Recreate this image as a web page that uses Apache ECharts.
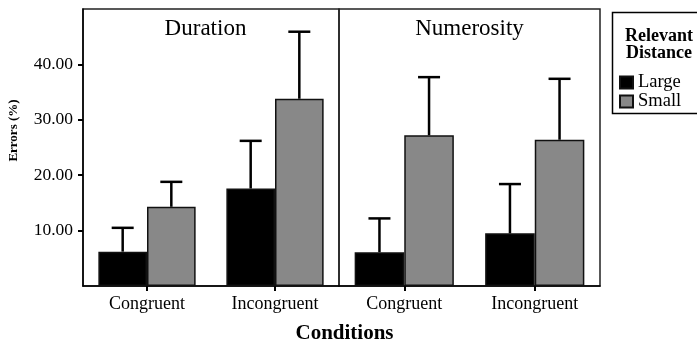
<!DOCTYPE html>
<html>
<head>
<meta charset="utf-8">
<script src="https://cdn.jsdelivr.net/npm/echarts@6/dist/echarts.min.js"></script>
<style>
html,body{margin:0;padding:0;background:#fff;}
#chart{width:697px;height:344px;}
</style>
</head>
<body>
<div id="chart"></div>
<script>
// ---- data ----
const categories = ['Congruent', 'Incongruent'];
const panels = ['Duration', 'Numerosity'];
const seriesNames = ['Large', 'Small'];
const durationLarge = [6.2, 17.6];
const durationLargeUpper = [10.5, 26.2];
const durationSmall = [14.3, 33.8];
const durationSmallUpper = [18.8, 45.9];
const numerosityLarge = [6.1, 9.5];
const numerosityLargeUpper = [12.2, 18.4];
const numerositySmall = [27.2, 26.4];
const numerositySmallUpper = [37.7, 37.4];
const yTicks = [10, 20, 30, 40];

const FONT = '"Liberation Serif","Times New Roman",serif';
const colors = {Large: '#000000', Small: '#888888'};
const BAR_FRAC = 0.38;

function errSeries(name, side, values, uppers, idx) {
  return {
    type: 'custom',
    name: name,
    xAxisIndex: idx, yAxisIndex: idx,
    silent: true, z: 5,
    data: values.map((v, i) => [i, v, uppers[i]]),
    renderItem: function (params, api) {
      const c = api.value(0);
      const base = api.coord([c, api.value(1)]);
      const top = api.coord([c, api.value(2)]);
      const bw = api.size([1, 0])[0] * BAR_FRAC;
      const x = base[0] + side * bw / 2;
      const cap = 11;
      return {
        type: 'group',
        children: [
          {type: 'line', shape: {x1: x, y1: base[1], x2: x, y2: top[1]}, style: {stroke: '#000', lineWidth: 2.5}},
          {type: 'line', shape: {x1: x - cap, y1: top[1], x2: x + cap, y2: top[1]}, style: {stroke: '#000', lineWidth: 2.5}}
        ]
      };
    }
  };
}

function barSeries(name, values, idx) {
  return {
    type: 'bar', name: name,
    xAxisIndex: idx, yAxisIndex: idx,
    data: values,
    barWidth: (BAR_FRAC * 100) + '%',
    barGap: '0%',
    itemStyle: {color: colors[name], borderColor: '#111', borderWidth: 1.5},
    emphasis: {disabled: true}
  };
}

const chart = echarts.init(document.getElementById('chart'), null, {renderer: 'canvas'});

const xAxisBase = (gi) => ({
  type: 'category', gridIndex: gi, data: categories,
  axisLine: {show: true, lineStyle: {color: '#000', width: 1.5}},
  axisTick: {show: true, alignWithLabel: true, length: 5, lineStyle: {color: '#000', width: 2}},
  axisLabel: {color: '#000', fontFamily: FONT, fontSize: 18, margin: 9},
  splitLine: {show: false}
});

const option = {
  animation: false,
  backgroundColor: '#fff',
  grid: [
    {left: 83, top: 9, width: 256, height: 277, show: true, borderColor: '#222', borderWidth: 1.5, backgroundColor: 'transparent'},
    {left: 339, top: 9, width: 261, height: 277, show: true, borderColor: '#222', borderWidth: 1.5, backgroundColor: 'transparent'}
  ],
  xAxis: [xAxisBase(0), xAxisBase(1)],
  yAxis: [
    {
      type: 'value', gridIndex: 0, min: 0, max: 50, interval: 10,
      axisLine: {show: true, lineStyle: {color: '#000', width: 1.5}},
      axisTick: {show: true, length: 5, lineStyle: {color: '#000', width: 2}, customValues: yTicks},
      axisLabel: {color: '#000', fontFamily: FONT, fontSize: 17.5, margin: 10, customValues: yTicks,
        formatter: v => v.toFixed(2)},
      splitLine: {show: false}
    },
    {type: 'value', gridIndex: 1, min: 0, max: 50, interval: 10, show: false, splitLine: {show: false}}
  ],
  legend: {
    data: seriesNames,
    orient: 'vertical',
    left: 619, top: 73,
    itemWidth: 13, itemHeight: 12, itemGap: 0,
    icon: 'rect',
    padding: 0,
    textStyle: {color: '#000', fontFamily: FONT, fontSize: 18.5, lineHeight: 16}
  },
  graphic: [
    {type: 'rect', shape: {x: 612.5, y: 12.5, width: 86, height: 101}, style: {fill: 'none', stroke: '#000', lineWidth: 1.5}},
    {type: 'text', x: 659, y: 36.5, style: {text: 'Relevant', align: 'center', verticalAlign: 'middle', font: 'bold 18px ' + FONT, fill: '#000'}},
    {type: 'text', x: 659, y: 53.5, style: {text: 'Distance', align: 'center', verticalAlign: 'middle', font: 'bold 18px ' + FONT, fill: '#000'}},
    {type: 'text', x: 205.5, y: 28.5, style: {text: panels[0], align: 'center', verticalAlign: 'middle', font: '23px ' + FONT, fill: '#000'}},
    {type: 'text', x: 469.5, y: 28.5, style: {text: panels[1], align: 'center', verticalAlign: 'middle', font: '23px ' + FONT, fill: '#000'}},
    {type: 'text', x: 14, y: 130.5, rotation: Math.PI / 2, style: {text: 'Errors (%)', align: 'center', verticalAlign: 'middle', font: 'bold 13px ' + FONT, fill: '#000'}},
    {type: 'text', x: 344.5, y: 334, style: {text: 'Conditions', align: 'center', verticalAlign: 'middle', font: 'bold 21px ' + FONT, fill: '#000'}}
  ],
  series: [
    barSeries('Large', durationLarge, 0),
    barSeries('Small', durationSmall, 0),
    barSeries('Large', numerosityLarge, 1),
    barSeries('Small', numerositySmall, 1),
    errSeries('LargeErr', -1, durationLarge, durationLargeUpper, 0),
    errSeries('SmallErr', 1, durationSmall, durationSmallUpper, 0),
    errSeries('LargeErr', -1, numerosityLarge, numerosityLargeUpper, 1),
    errSeries('SmallErr', 1, numerositySmall, numerositySmallUpper, 1)
  ]
};
chart.setOption(option);
</script>
</body>
</html>
